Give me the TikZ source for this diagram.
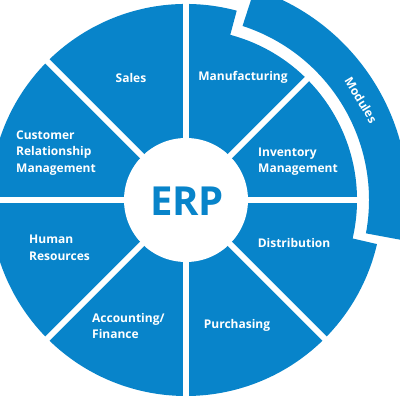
\documentclass[tikz,border=0pt]{standalone}
\usepackage{fontspec}
\setmainfont{Open Sans}
\definecolor{erpblue}{RGB}{8,132,202}
\tikzset{
  lbl/.style={text=white, font=\bfseries\fontsize{12}{16.5}\selectfont, inner sep=0pt, align=left},
  gapline/.style={white, line width=6pt}
}
\begin{document}
\begin{tikzpicture}[x=1pt,y=1pt]
\useasboundingbox (0,0) rectangle (400,400);
\clip (0,0) rectangle (400,400);
\begin{scope}[shift={(186,200)}]
  % main disk with reduced radius under the ring
  \fill[erpblue] (0,0) -- (75:196pt) arc[start angle=75, end angle=347, radius=196pt]
     -- (-13:171pt) arc[start angle=-13, end angle=75, radius=171pt] -- cycle;
  % separating lines
  \foreach \a in {0,45,...,315} \draw[gapline] (0,0) -- (\a:205pt);
  % ring
  \fill[erpblue] (72:222pt) arc[start angle=72, end angle=-10.5, radius=222pt]
     -- (-10.5:183pt) arc[start angle=-10.5, end angle=72, radius=183pt] -- cycle;
  % centre
  \fill[white] (0,0) circle (62pt);
  \coordinate (c) at (0,0);
\end{scope}
\node[text=erpblue, font=\bfseries\fontsize{40}{40}\selectfont, inner sep=0pt] (erp) at (187,199) {ERP};
\node[lbl] (sales) at (131,322) {Sales};
\node[lbl, anchor=west] (crm) at (16,247) {Customer\\Relationship\\Management};
\node[lbl] (manu) at (243,323) {Manufacturing};
\node[lbl, anchor=west] (inv) at (258,238.5) {Inventory\\Management};
\node[lbl] (dist) at (294,157) {Distribution};
\node[lbl] (purch) at (237,75) {Purchasing};
\node[lbl, anchor=west] (hr) at (29,152) {Human\\Resources};
\node[lbl, anchor=west] (acc) at (92,74) {Accounting/\\Finance};
\node[lbl, rotate=-59] (mod) at (361,300) {Modules};
\end{tikzpicture}
\end{document}
